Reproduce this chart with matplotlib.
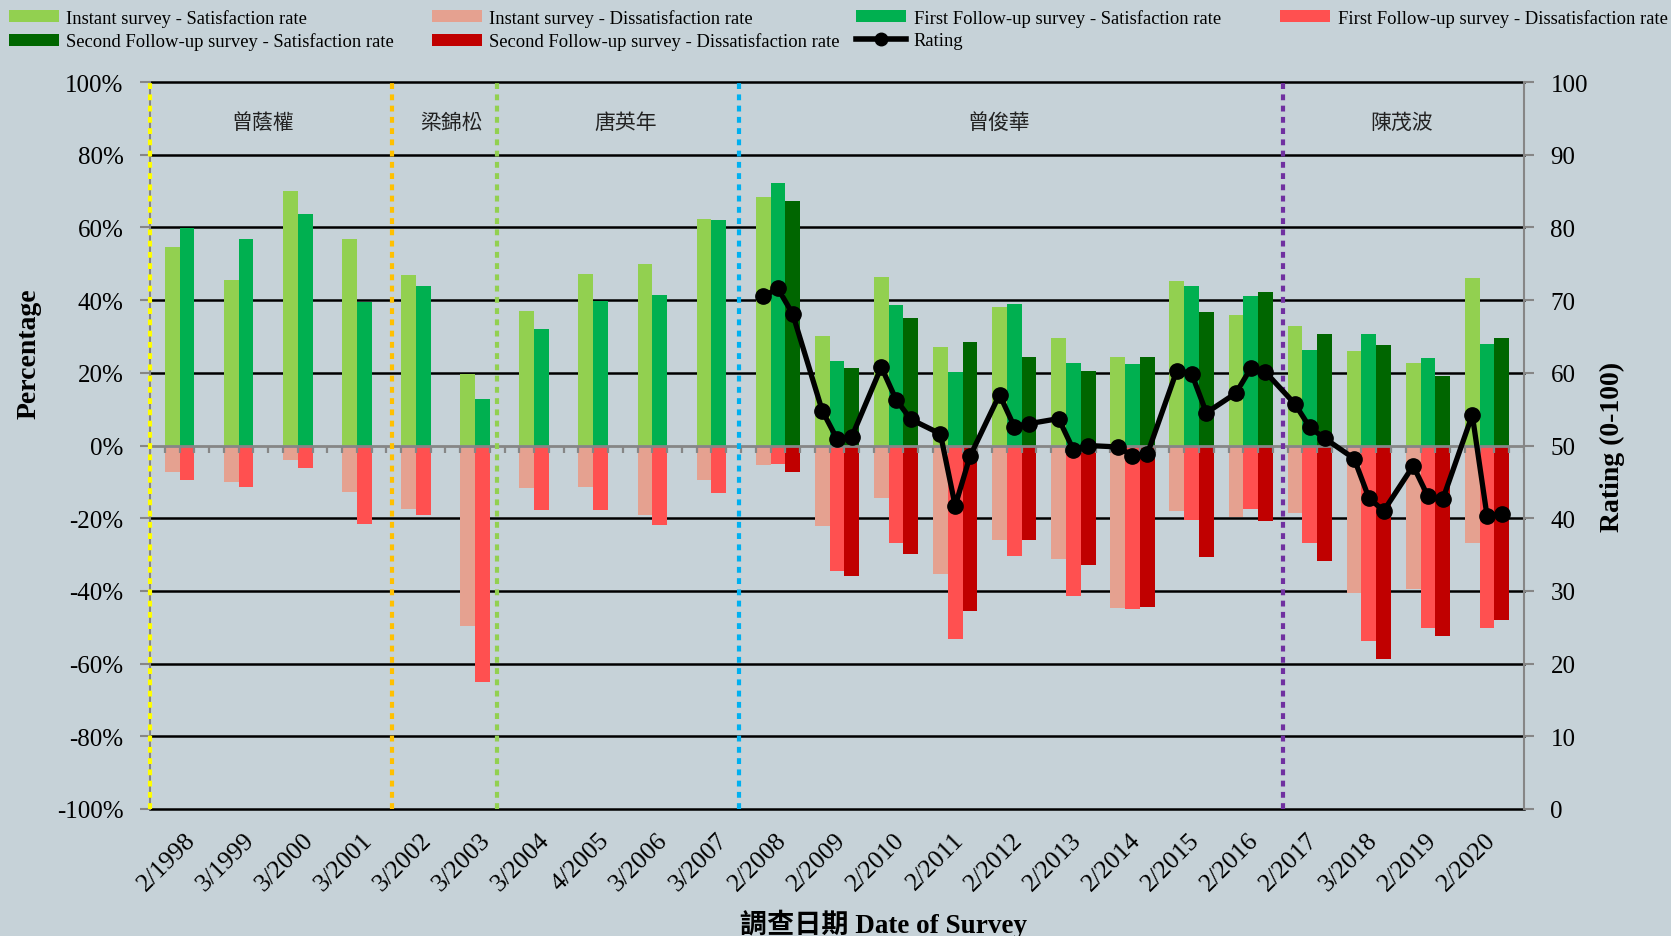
import numpy as np
import matplotlib
matplotlib.use("Agg")
import matplotlib.pyplot as plt
from matplotlib.patches import Patch
from matplotlib.lines import Line2D
from matplotlib.transforms import blended_transform_factory

plt.rcParams['font.family'] = ['Liberation Serif', 'Noto Sans CJK TC', 'DejaVu Sans']

# ---------------- data ----------------
dates = ['2/1998', '3/1999', '3/2000', '3/2001', '3/2002', '3/2003', '3/2004', '4/2005',
         '3/2006', '3/2007', '2/2008', '2/2009', '2/2010', '2/2011', '2/2012', '2/2013',
         '2/2014', '2/2015', '2/2016', '2/2017', '3/2018', '2/2019', '2/2020']

instant_sat = [54.7, 45.6, 70.1, 56.8, 47.0, 19.7, 37.0, 47.2, 50.0, 62.3, 68.3, 30.0, 46.3,
               27.2, 38.0, 29.5, 24.3, 45.3, 36.0, 33.0, 26.1, 22.8, 46.0]
first_sat = [59.9, 56.8, 63.7, 39.4, 44.0, 12.8, 32.0, 39.8, 41.4, 62.0, 72.2, 23.3, 38.6,
             20.1, 38.9, 22.6, 22.4, 44.0, 41.2, 26.2, 30.6, 24.1, 28.0]
second_sat = [None] * 10 + [67.2, 21.2, 35.1, 28.6, 24.3, 20.5, 24.4, 36.6, 42.1, 30.6,
                            27.7, 19.2, 29.6]
instant_dis = [-7.3, -10.1, -4.1, -12.9, -17.4, -49.6, -11.8, -11.4, -19.0, -9.4, -5.4, -22.2,
               -14.5, -35.3, -26.1, -31.1, -44.8, -17.9, -19.6, -18.5, -40.6, -39.4, -26.8]
first_dis = [-9.5, -11.3, -6.1, -21.5, -19.0, -65.1, -17.8, -17.8, -22.0, -13.1, -5.2, -34.6,
             -26.9, -53.2, -30.3, -41.5, -45.0, -20.5, -17.5, -26.7, -53.9, -50.3, -50.1]
second_dis = [None] * 10 + [-7.3, -35.8, -29.9, -45.4, -26.1, -32.9, -44.5, -30.7, -20.9,
                            -31.7, -58.6, -52.5, -48.1]

# ratings (2008-2020): instant / first follow-up / second follow-up
rating_instant = [70.5, 54.8, 60.8, 51.6, 57.0, 53.7, 49.8, 60.3, 57.2, 55.7, 48.2, 47.2, 54.2]
rating_first = [71.6, 50.9, 56.3, 41.7, 52.6, 49.4, 48.6, 59.9, 60.6, 52.5, 42.8, 43.0, 40.3]
rating_second = [68.1, 51.2, 53.6, 48.5, 53.0, 50.0, 48.8, 54.5, 60.1, 51.0, 41.0, 42.6, 40.6]
rating_start_group = 10

leaders = ['曾蔭權', '梁錦松', '唐英年', '曾俊華', '陳茂波']
leader_pos = [7.65, 20.44, 32.19, 57.44, 84.7]
divider_pos = [0.0, 16.35, 23.5, 39.9, 76.7]
divider_colors = ['#FFFF00', '#FFC000', '#92D050', '#00B0F0', '#7030A0']

# ---------------- style ----------------
W, H = 1671, 937
bg = '#C6D2D8'
grey = '#868686'
serif = ['Liberation Serif']
c_is, c_fs, c_ss = '#92D050', '#00B050', '#006600'
c_id, c_fd, c_sd = '#E5A190', '#FF5050', '#C00000'

fig = plt.figure(figsize=(W / 100, H / 100), dpi=100)
fig.patch.set_facecolor(bg)
L, R, T, B = 150, 1524, 83, 810
ax = fig.add_axes([L / W, 1 - B / H, (R - L) / W, (B - T) / H])
ax.set_facecolor(bg)
n = len(dates)
nslots = 4 * n + 1
ax.set_xlim(0, nslots)
ax.set_ylim(-100, 100)

# gridlines
for v in range(-100, 101, 20):
    if v != 0:
        ax.axhline(v, color='black', lw=1.8, zorder=0.5, clip_on=False)

g = np.arange(n)
base = 1 + 4 * g + 0.5   # centre of instant-survey slot


def draw(offset, vals, color):
    xs = [base[i] + offset for i, v in enumerate(vals) if v is not None]
    ys = [v for v in vals if v is not None]
    ax.bar(xs, ys, width=1.0, color=color, edgecolor='none', zorder=2)


draw(0, instant_sat, c_is)
draw(1, first_sat, c_fs)
draw(2, second_sat, c_ss)
draw(0, instant_dis, c_id)
draw(1, first_dis, c_fd)
draw(2, second_dis, c_sd)

# category axis at zero with small tick marks
ax.axhline(0, color=grey, lw=2.0, zorder=3)
ax.vlines(np.arange(0, nslots + 1), 0, -2.1, color=grey, lw=1.6, zorder=3)

# dividers
for xp, col in zip(divider_pos, divider_colors):
    ax.axvline(xp, color=col, lw=3.0, linestyle=(0, (1.4, 1.3)), zorder=4,
               dash_capstyle='butt', clip_on=False)

# leader names
trans = blended_transform_factory(ax.transData, ax.transAxes)
for name, xp in zip(leaders, leader_pos):
    ax.text(xp, (B - 123) / (B - T), name, transform=trans, ha='center', va='center',
            fontsize=15, family=['Noto Sans CJK TC'], color='#222222', zorder=5)

# axes / ticks
yt = list(range(-100, 101, 20))
ax.set_yticks(yt)
ax.set_yticklabels([f'{v}%' for v in yt], fontsize=18, family=serif)
ax.tick_params(axis='y', direction='out', length=7, width=1.5, color=grey, pad=12)
ax.set_xticks(2.3 + 4 * g)
ax.set_xticklabels(dates, rotation=45, ha='right', va='top', rotation_mode='anchor',
                   fontsize=18.5, family=serif)
ax.tick_params(axis='x', length=0, pad=14)
for s in ['top', 'bottom', 'right']:
    ax.spines[s].set_visible(False)
ax.spines['left'].set_color(grey)
ax.spines['left'].set_linewidth(1.5)

ax2 = ax.twinx()
ax2.set_ylim(0, 100)
rt = list(range(0, 101, 10))
ax2.set_yticks(rt)
ax2.set_yticklabels([str(v) for v in rt], fontsize=18, family=serif)
ax2.tick_params(axis='y', direction='out', length=7, width=1.5, color=grey, pad=12)
for s in ['top', 'bottom', 'left']:
    ax2.spines[s].set_visible(False)
ax2.spines['right'].set_color(grey)
ax2.spines['right'].set_linewidth(1.5)

# rating line
rx, ry = [], []
for k in range(len(rating_instant)):
    gi = rating_start_group + k
    for off, arr in ((0, rating_instant), (1, rating_first), (2, rating_second)):
        rx.append(base[gi] + off)
        ry.append(arr[k])
ax2.plot(rx, ry, color='black', lw=3.8, marker='o', ms=11, zorder=6)

# axis titles
fig.text(29 / W, 1 - 354 / H, 'Percentage', rotation=90, ha='center', va='center',
         fontsize=20, fontweight='bold', family=serif)
fig.text(1612 / W, 1 - 447 / H, 'Rating (0-100)', rotation=90, ha='center', va='center',
         fontsize=20, fontweight='bold', family=serif)
fig.text(883 / W, 1 - 924 / H, '調查日期 Date of Survey', ha='center', va='center',
         fontsize=19.5, fontweight='bold')

# legend: four columns
cols = [
    [(Patch(facecolor=c_is), 'Instant survey - Satisfaction rate'),
     (Patch(facecolor=c_ss), 'Second Follow-up survey - Satisfaction rate')],
    [(Patch(facecolor=c_id), 'Instant survey - Dissatisfaction rate'),
     (Patch(facecolor=c_sd), 'Second Follow-up survey - Dissatisfaction rate')],
    [(Patch(facecolor=c_fs), 'First Follow-up survey - Satisfaction rate'),
     (Line2D([0], [0], color='black', lw=4, marker='o', ms=9), 'Rating')],
    [(Patch(facecolor=c_fd), 'First Follow-up survey - Dissatisfaction rate')],
]
col_x = [8.5, 431.6, 855.8, 1280]
for cx, items in zip(col_x, cols):
    fig.legend([h for h, _ in items], [t for _, t in items], loc='upper left',
               bbox_to_anchor=(cx / W, 1 - 10 / H), frameon=False,
               prop={'family': serif, 'size': 13.4},
               handlelength=2.7, handleheight=0.6, handletextpad=0.41,
               labelspacing=0.3, borderpad=0, borderaxespad=0)

fig.savefig('out.png', dpi=100, facecolor=bg)
